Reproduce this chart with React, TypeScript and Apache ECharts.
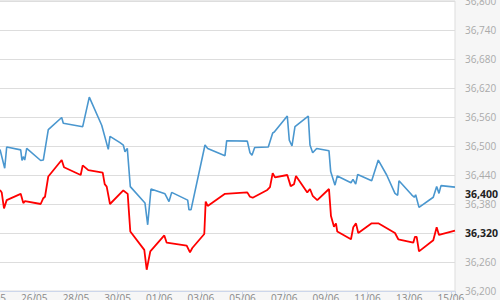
import React, { useEffect, useRef } from "react";
import * as echarts from "echarts";

// x = days since 24/05
const blueDays = [0.355, 0.581, 0.677, 1.349, 1.411, 1.474, 1.541, 1.637, 2.309, 2.434, 2.674, 3.317, 3.394, 4.326, 4.642, 5.238, 5.554, 5.636, 6.116, 6.275, 6.356, 6.467, 6.611, 7.316, 7.446, 7.604, 8.277, 8.469, 8.598, 9.366, 9.429, 9.525, 10.197, 10.326, 11.157, 11.239, 12.228, 12.357, 12.453, 12.583, 13.236, 13.447, 13.524, 14.148, 14.244, 14.373, 14.517, 15.156, 15.238, 15.367, 15.559, 16.15, 16.232, 16.438, 16.548, 17.206, 17.302, 17.432, 17.528, 18.2, 18.517, 18.92, 19.318, 19.448, 19.51, 20.12, 20.245, 20.312, 20.471, 21.157, 21.32, 21.431, 21.527, 22.199];
const blueValues = [36493, 36454, 36498, 36492, 36470, 36478, 36471, 36495, 36470, 36471, 36534, 36559, 36547, 36540, 36601, 36543, 36493, 36520, 36507, 36502, 36488, 36495, 36416, 36382, 36337, 36411, 36401, 36385, 36404, 36388, 36368, 36368, 36502, 36495, 36480, 36511, 36510, 36486, 36481, 36497, 36498, 36527, 36529, 36562, 36512, 36500, 36540, 36562, 36502, 36486, 36495, 36490, 36447, 36419, 36438, 36424, 36431, 36421, 36441, 36428, 36471, 36440, 36402, 36398, 36428, 36399, 36394, 36399, 36373, 36394, 36416, 36402, 36418, 36415];

const redDays = [0.355, 0.437, 0.547, 0.677, 1.349, 1.474, 1.555, 2.309, 2.434, 2.516, 2.674, 3.317, 3.428, 4.229, 4.326, 4.594, 5.286, 5.382, 5.478, 5.636, 6.275, 6.486, 6.611, 7.283, 7.398, 7.571, 8.243, 8.358, 9.318, 9.477, 9.587, 10.163, 10.23, 10.326, 11.157, 12.228, 12.357, 12.487, 13.188, 13.317, 13.447, 13.557, 14.148, 14.311, 14.47, 14.566, 15.108, 15.238, 15.367, 15.588, 16.15, 16.246, 16.39, 16.486, 16.548, 17.206, 17.316, 17.446, 17.556, 18.2, 18.517, 19.318, 19.477, 20.197, 20.279, 20.36, 20.471, 21.157, 21.32, 21.431, 22.199];
const redValues = [36409, 36404, 36371, 36388, 36401, 36382, 36386, 36380, 36392, 36395, 36437, 36471, 36456, 36440, 36460, 36450, 36445, 36421, 36416, 36380, 36408, 36401, 36323, 36285, 36244, 36282, 36315, 36300, 36294, 36280, 36289, 36318, 36385, 36376, 36401, 36404, 36395, 36393, 36409, 36415, 36444, 36435, 36440, 36417, 36421, 36438, 36404, 36411, 36397, 36388, 36411, 36355, 36333, 36340, 36323, 36307, 36332, 36340, 36320, 36340, 36340, 36320, 36307, 36300, 36312, 36312, 36282, 36305, 36332, 36316, 36325];

// current-price labels on the right axis
const lastLabels = [36400, 36320];

const startDate = new Date(2024, 4, 24); // 24/05
const yMin = 36200;
const yMax = 36800;
const yStep = 60;
const labelStep = 40;

const fmtNum = (v: number) => {
  const s = Math.round(v).toString();
  return s.slice(0, s.length - 3) + "," + s.slice(s.length - 3);
};
const fmtDay = (d: number) => {
  const dt = new Date(startDate.getTime() + Math.round(d) * 86400000);
  const dd = String(dt.getDate()).padStart(2, "0");
  const mm = String(dt.getMonth() + 1).padStart(2, "0");
  return dd + "/" + mm;
};

export default function App() {
  const ref = useRef<HTMLDivElement>(null);
  useEffect(() => {
    if (!ref.current) return;
    const chart = echarts.init(ref.current, undefined, { renderer: "svg" });
    const font = "'Open Sans', sans-serif";
    chart.setOption({
      animation: false,
      backgroundColor: "#f6f6f6",
      grid: {
        left: -7.4,
        right: 45,
        top: 1,
        bottom: 9,
        containLabel: false,
        outerBoundsMode: "none",
        show: true,
        backgroundColor: "#ffffff",
        borderColor: "#dddddd",
        borderWidth: 1,
      },
      xAxis: {
        type: "value",
        min: 0,
        max: 22.2,
        interval: 2,
        axisLine: { show: true, lineStyle: { color: "#ccd6eb", width: 1 } },
        axisTick: { show: true, length: 6, lineStyle: { color: "#ccd6eb" } },
        splitLine: { show: false },
        axisLabel: {
          margin: 2,
          color: "#888",
          fontSize: 10,
          fontFamily: font,
          formatter: (v: number) => (Math.abs(v - Math.round(v)) < 1e-6 && Math.round(v) % 2 === 0 ? fmtDay(v) : ""),
        },
      },
      yAxis: [
        {
          type: "value",
          position: "right",
          min: yMin,
          max: yMax,
          interval: yStep,
          axisLine: { show: false },
          axisTick: { show: false },
          splitLine: { show: true, lineStyle: { color: "#dddddd", width: 1 } },
          axisLabel: {
            margin: 10,
            color: "#aaa",
            fontSize: 10,
            fontFamily: font,
            formatter: (v: number) => (lastLabels.includes(v) ? "" : fmtNum(v)),
          },
        },
        {
          type: "value",
          position: "right",
          min: yMin,
          max: yMax,
          interval: labelStep,
          axisLine: { show: false },
          axisTick: { show: false },
          splitLine: { show: false },
          axisLabel: {
            margin: 10,
            color: "#222",
            fontWeight: "bold",
            fontSize: 10.5,
            fontFamily: font,
            formatter: (v: number) => (lastLabels.includes(v) ? fmtNum(v) : ""),
          },
        },
      ],
      series: [
        {
          type: "line",
          data: blueDays.map((d, i) => [d, blueValues[i]]),
          showSymbol: false,
          lineStyle: { color: "#4a97cf", width: 1.6 },
          itemStyle: { color: "#4a97cf" },
        },
        {
          type: "line",
          data: redDays.map((d, i) => [d, redValues[i]]),
          showSymbol: false,
          lineStyle: { color: "#ff0000", width: 1.8 },
          itemStyle: { color: "#ff0000" },
        },
      ],
    });
    return () => chart.dispose();
  }, []);
  return (
    <div
      ref={ref}
      style={{ position: "fixed", left: 0, top: 0, width: 500, height: 300 }}
    />
  );
}
